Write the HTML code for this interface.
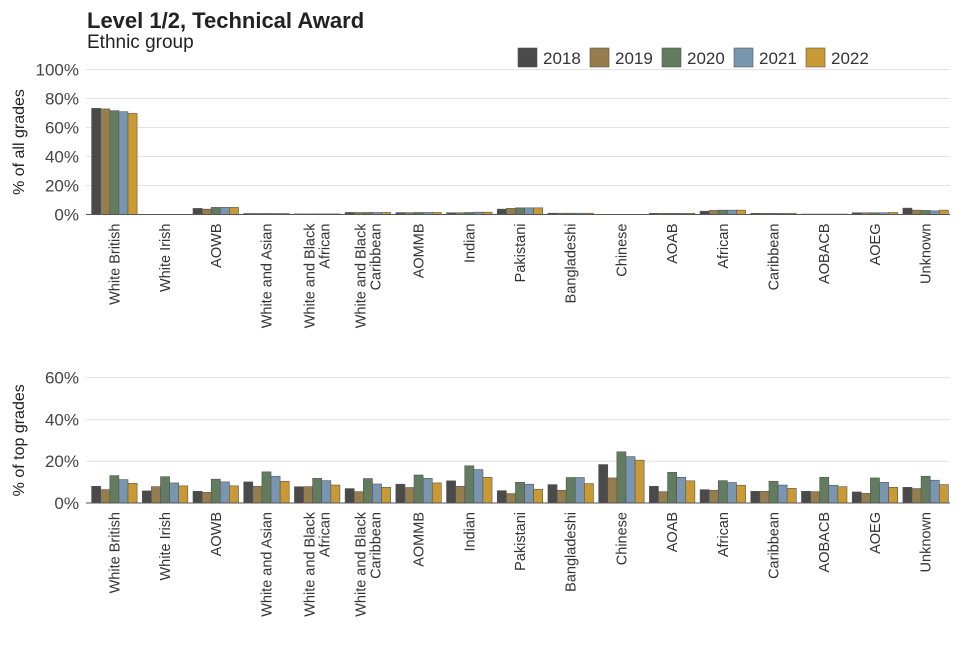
<!DOCTYPE html>
<html><head><meta charset="utf-8"><style>
body{margin:0;background:#fff;width:960px;height:640px;overflow:hidden}
svg text{font-family:"Liberation Sans",Arial,sans-serif}
</style></head><body>
<svg id="chart" width="960" height="640" xmlns="http://www.w3.org/2000/svg">
<text x="87" y="28" font-size="22" font-weight="bold" fill="#222">Level 1/2, Technical Award</text>
<text x="87" y="48" font-size="19" fill="#222">Ethnic group</text>
<g id="legend"></g>
<g id="top"></g>
<g id="bot"></g>
</svg>
<script>
const categories=["White British","White Irish","AOWB","White and Asian","White and Black African","White and Black Caribbean","AOMMB","Indian","Pakistani","Bangladeshi","Chinese","AOAB","African","Caribbean","AOBACB","AOEG","Unknown"];
const labelLines=[["White British"],["White Irish"],["AOWB"],["White and Asian"],["White and Black","African"],["White and Black","Caribbean"],["AOMMB"],["Indian"],["Pakistani"],["Bangladeshi"],["Chinese"],["AOAB"],["African"],["Caribbean"],["AOBACB"],["AOEG"],["Unknown"]];
const years=["2018","2019","2020","2021","2022"];
const colors=["#4a4a4a","#957d4d","#617c5f","#7a95b0","#c99a33"];
const all2018=[73.2,0.1,4.2,0.7,0.4,1.4,1.3,1.2,3.7,0.9,0.1,0.8,2.3,0.8,0.3,1.2,4.4];
const all2019=[72.8,0.1,3.7,0.7,0.4,1.4,1.3,1.2,4.2,0.9,0.1,0.8,2.8,0.8,0.3,1.2,3.0];
const all2020=[71.6,0.1,4.9,0.7,0.4,1.4,1.4,1.4,4.6,0.9,0.1,0.8,3.0,0.8,0.3,1.2,2.8];
const all2021=[70.9,0.1,4.9,0.7,0.4,1.4,1.4,1.6,4.6,0.9,0.1,0.8,3.0,0.8,0.3,1.2,2.5];
const all2022=[69.7,0.1,4.9,0.7,0.4,1.4,1.4,1.6,4.6,0.9,0.1,0.8,3.0,0.8,0.3,1.4,3.0];
const top2018=[8.0,5.8,5.6,10.1,7.8,6.9,9.0,10.6,5.9,8.8,18.4,8.0,6.4,5.6,5.6,5.3,7.5];
const top2019=[6.4,7.8,5.1,8.0,7.8,5.4,7.4,8.0,4.5,6.1,12.0,5.4,6.1,5.6,5.4,4.6,6.9];
const top2020=[13.1,12.6,11.4,14.9,11.8,11.7,13.4,17.8,9.9,12.2,24.5,14.7,10.7,10.4,12.3,12.0,12.8];
const top2021=[11.2,9.6,10.1,12.8,10.7,9.1,11.8,16.0,9.0,12.2,22.2,12.3,9.8,8.6,8.5,9.9,10.9];
const top2022=[9.4,8.2,8.2,10.4,8.6,7.5,9.6,12.3,6.6,9.3,20.5,10.6,8.5,7.0,7.8,7.5,8.8];
const allTicks=[0,20,40,60,80,100];
const topTicks=[0,20,40,60];
const NS="http://www.w3.org/2000/svg";
function mk(tag,attrs,parent,txt){const e=document.createElementNS(NS,tag);for(const k in attrs)e.setAttribute(k,attrs[k]);if(txt!=null)e.textContent=txt;parent.appendChild(e);return e;}
const x0=88,x1=950,band=(x1-x0)/categories.length,barW=9.1;
function xCenter(i){return x0+band*(i+0.5)+1;}
function panel(g,series,ticks,base,pxPer,title,pfx){
 const y=v=>base-v*pxPer;
 ticks.forEach(t=>{
  const gl=mk('line',{x1:86,x2:950,y1:y(t),y2:y(t),stroke:'#e3e3e3','stroke-width':1},g);
  
  
  const tl=mk('text',{x:79,y:y(t)+6,'text-anchor':'end','font-size':17,fill:'#444'},g,t+'%');
  
  
 });
 const at=mk('text',{transform:`translate(24,${base-(ticks[ticks.length-1]*pxPer)/2}) rotate(-90)`,'text-anchor':'middle','font-size':16,fill:'#222'},g,title);
 
 
 categories.forEach((c,i)=>{
  const cx=xCenter(i);
  series.forEach((s,k)=>{
   const v=s[i];const bx=cx-2.5*barW+k*barW;
   const r=mk('rect',{x:bx,y:y(v),width:barW,height:Math.max(v*pxPer,0.3),fill:colors[k],stroke:'#555','stroke-width':0.6},g);
   
   
  });
  const lines=labelLines[i];
  const t=mk('text',{transform:`translate(${cx},${base+9}) rotate(-90)`,'text-anchor':'end','font-size':14.5,fill:'#333'},g);
  
  
  lines.forEach((ln,j)=>{const off=(j-(lines.length-1)/2)*15+5;mk('tspan',{x:0,y:off},t,ln);});
 });
 const ax=mk('line',{x1:86,x2:950,y1:base,y2:base,stroke:'#555','stroke-width':1},g);
 
 
}
panel(document.getElementById('top'),[all2018,all2019,all2020,all2021,all2022],allTicks,214.5,1.45,'% of all grades','all');
panel(document.getElementById('bot'),[top2018,top2019,top2020,top2021,top2022],topTicks,503,2.09,'% of top grades','top');
const lg=document.getElementById('legend');
years.forEach((yr,k)=>{
 const lx=518+k*72;
 const r=mk('rect',{x:lx,y:48,width:19,height:19,fill:colors[k],stroke:'#555','stroke-width':0.6},lg);
 
 
 const t=mk('text',{x:lx+25,y:64,'font-size':17,fill:'#333'},lg,yr);
 
 
});
</script>
</body></html>
